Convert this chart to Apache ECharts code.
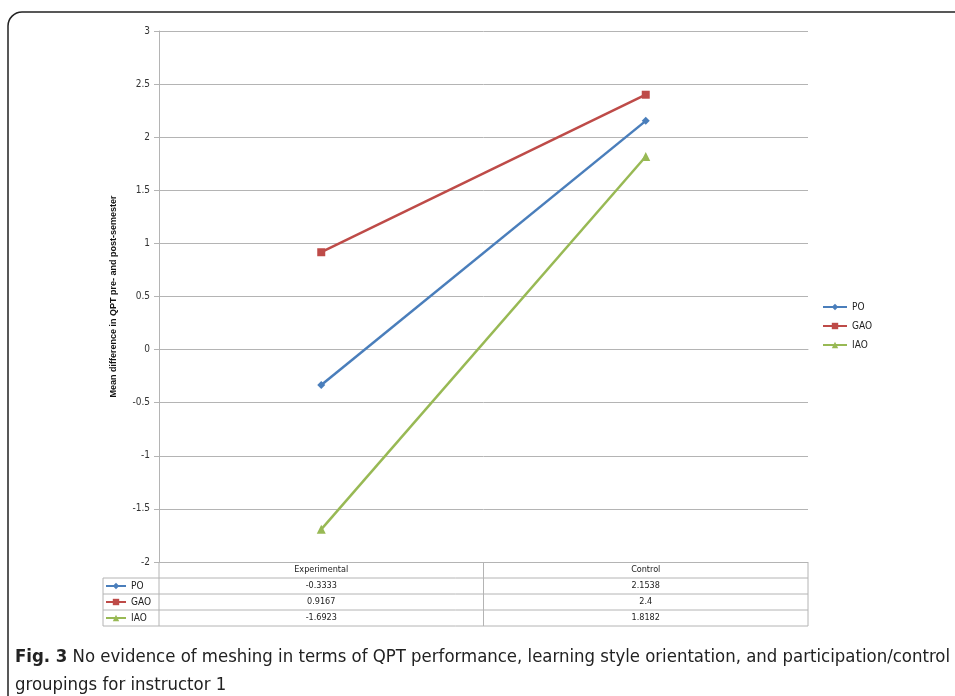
<!DOCTYPE html>
<html>
<head>
<meta charset="utf-8">
<script src="https://cdn.jsdelivr.net/npm/echarts@6/dist/echarts.min.js"></script>
<style>
html,body{margin:0;padding:0;background:#fff;}
#chart{width:955px;height:696px;}
</style>
</head>
<body>
<div id="chart"></div>
<script>
// ---- data ----
var categories = ['Experimental', 'Control'];
var seriesNames = ['PO', 'GAO', 'IAO'];
var poValues = [-0.3333, 2.1538];
var gaoValues = [0.9167, 2.4];
var iaoValues = [-1.6923, 1.8182];
var poLabels = ['-0.3333', '2.1538'];
var gaoLabels = ['0.9167', '2.4'];
var iaoLabels = ['-1.6923', '1.8182'];
var yAxisName = 'Mean difference in QPT pre- and post-semester';
var captionBold = 'Fig. 3';
var captionLine1 = ' No evidence of meshing in terms of QPT performance, learning style orientation, and participation/control';
var captionLine2 = 'groupings for instructor 1';

// ---- styles ----
var colors = ['#4A7EBB', '#BE4B48', '#98B954'];
var symbols = ['diamond', 'rect', 'triangle'];
var symbolSizes = [8, 8, 9];
var gridColor = '#b4b4b4';
var tableColor = '#b4b4b4';
var labelFont = "'Liberation Sans Narrow','DejaVu Sans Condensed',sans-serif";

var G = {left: 159, top: 31, right: 147, bottom: 134};
var rowH = 16;
var tableLeft = 103;

var chart = echarts.init(document.getElementById('chart'));
var dataSets = [poValues, gaoValues, iaoValues];
var labelSets = [poLabels, gaoLabels, iaoLabels];

var series = seriesNames.map(function (n, i) {
  return {
    name: n, type: 'line', data: dataSets[i],
    symbol: symbols[i], symbolSize: symbolSizes[i],
    itemStyle: {color: colors[i]},
    lineStyle: {color: colors[i], width: 2.5},
    emphasis: {disabled: true},
    animation: false
  };
});

var option = {
  animation: false,
  grid: {left: G.left, top: G.top, right: G.right, bottom: G.bottom, containLabel: false},
  legend: [{
    data: seriesNames, orient: 'vertical', left: 822, top: 301, padding: 0,
    itemWidth: 24, itemHeight: 8, itemGap: 7,
    textStyle: {fontSize: 10, color: '#222', fontFamily: labelFont, lineHeight: 12}
  }, {
    data: seriesNames, orient: 'vertical', left: 105, top: 580, padding: 0,
    itemWidth: 20, itemHeight: 8, itemGap: 4, selectedMode: false,
    textStyle: {fontSize: 10, color: '#222', fontFamily: labelFont, lineHeight: 12}
  }],
  xAxis: {
    type: 'category', data: categories, boundaryGap: true,
    axisLine: {show: true, lineStyle: {color: tableColor}},
    axisTick: {show: false}, axisLabel: {show: false}
  },
  yAxis: {
    type: 'value', min: -2, max: 3, interval: 0.5,
    name: yAxisName, nameLocation: 'middle', nameGap: 41, nameRotate: 90,
    nameTextStyle: {fontSize: 9, fontWeight: 'bold', color: '#111', fontFamily: "'Liberation Sans',Arial,sans-serif"},
    axisLine: {show: true, lineStyle: {color: gridColor}},
    axisTick: {show: true, length: 5, lineStyle: {color: gridColor}},
    axisLabel: {fontSize: 10, color: '#333', margin: 9, fontFamily: labelFont},
    splitLine: {show: true, lineStyle: {color: gridColor, width: 1}}
  },
  series: series
};
chart.setOption(option);

// ---- data table + caption + frame ----
var gridBottom = 696 - G.bottom;
var gridLeft = G.left;
var gridRight = 955 - G.right;
var mid = (chart.convertToPixel({xAxisIndex: 0}, categories[0]) + chart.convertToPixel({xAxisIndex: 0}, categories[1])) / 2;
var els = [];
function line(x1, y1, x2, y2) {
  els.push({type: 'line', silent: true, shape: {x1: x1, y1: y1, x2: x2, y2: y2}, style: {stroke: tableColor, lineWidth: 1}});
}
var tBottom = gridBottom + rowH * 4;
line(gridLeft, gridBottom, gridLeft, tBottom);
line(mid, gridBottom, mid, tBottom);
line(gridRight, gridBottom, gridRight, tBottom);
line(tableLeft, gridBottom + rowH, tableLeft, tBottom);
for (var r = 1; r <= 4; r++) line(tableLeft, gridBottom + rowH * r, gridRight, gridBottom + rowH * r);

function cellText(x, y, t) {
  els.push({type: 'text', silent: true, x: x, y: y, style: {text: t, fontSize: 9, fill: '#222', fontFamily: labelFont, align: 'center', verticalAlign: 'middle'}});
}
categories.forEach(function (c, j) {
  var cx = chart.convertToPixel({xAxisIndex: 0}, c);
  cellText(cx, gridBottom + rowH / 2, c);
  labelSets.forEach(function (ls, i) {
    cellText(cx, gridBottom + rowH * (i + 1) + rowH / 2, ls[j]);
  });
});

els.push({
  type: 'text', silent: true, x: 15, y: 643,
  style: {
    text: '{b|' + captionBold + '}' + captionLine1 + '\n' + captionLine2,
    fontSize: 18.4, lineHeight: 28, fill: '#222', fontFamily: labelFont,
    rich: {b: {fontSize: 18.4, fontWeight: 'bold', fill: '#222', fontFamily: labelFont}}
  }
});
els.push({
  type: 'rect', silent: true, shape: {x: 8, y: 12, width: 1000, height: 800, r: 14},
  style: {fill: 'none', stroke: '#222', lineWidth: 1.5}
});
chart.setOption({graphic: {elements: els}});
</script>
</body>
</html>
